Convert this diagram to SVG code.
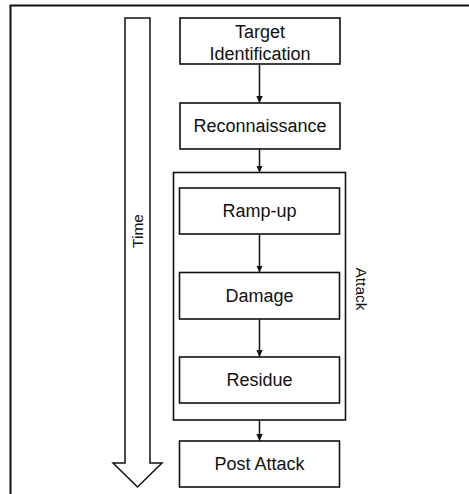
<svg xmlns="http://www.w3.org/2000/svg" width="469" height="494" viewBox="0 0 469 494">
  <style>
    .box { fill: #ffffff; stroke: #111111; stroke-width: 1.6; }
    .lbl { font-family: "Liberation Sans", Arial, sans-serif; font-size: 18px; fill: #111111; text-anchor: middle; }
    .side { font-family: "Liberation Sans", Arial, sans-serif; font-size: 15.5px; fill: #111111; text-anchor: middle; }
    .conn { stroke: #111111; stroke-width: 1.5; fill: none; marker-end: url(#head); }
  </style>
  <defs>
    <marker id="head" markerWidth="8" markerHeight="8" refX="7" refY="4" orient="auto" markerUnits="userSpaceOnUse">
      <path d="M0,0.8 L7,4 L0,7.2 Z" fill="#111111"/>
    </marker>
  </defs>
  <rect width="469" height="494" fill="#ffffff"/>

  <!-- frame -->
  <path d="M10.5,494 V5.5 H469" fill="none" stroke="#111111" stroke-width="2"/>

  <!-- time arrow -->
  <g id="time">
    <polygon points="125,18 150,18 150,463 162,463 137.5,487 113,463 125,463" fill="#ffffff" stroke="#111111" stroke-width="1.5"/>
    <text class="side" transform="translate(142.5,231) rotate(-90)">Time</text>
  </g>

  <!-- attack container -->
  <g id="attack">
    <rect class="box" x="173.5" y="172.5" width="172" height="247.5"/>
    <text class="side" transform="translate(356,289) rotate(90)">Attack</text>
  </g>

  <g id="target">
    <rect class="box" x="180" y="18" width="160" height="46"/>
    <text class="lbl" x="260" y="38">Target</text>
    <text class="lbl" x="260" y="59.5">Identification</text>
  </g>
  <g id="recon">
    <rect class="box" x="180" y="103" width="160" height="46"/>
    <text class="lbl" x="260" y="132">Reconnaissance</text>
  </g>
  <g id="rampup">
    <rect class="box" x="179.5" y="188" width="160" height="46"/>
    <text class="lbl" x="259.5" y="217">Ramp-up</text>
  </g>
  <g id="damage">
    <rect class="box" x="179.5" y="272.5" width="160" height="46.5"/>
    <text class="lbl" x="259.5" y="301.5">Damage</text>
  </g>
  <g id="residue">
    <rect class="box" x="179.5" y="357" width="160" height="46"/>
    <text class="lbl" x="259.5" y="386">Residue</text>
  </g>
  <g id="post">
    <rect class="box" x="179.5" y="441" width="160" height="46"/>
    <text class="lbl" x="259.5" y="470">Post Attack</text>
  </g>

  <g id="connectors">
    <line class="conn" x1="259.5" y1="64" x2="259.5" y2="103"/>
    <line class="conn" x1="259.5" y1="149" x2="259.5" y2="172.5"/>
    <line class="conn" x1="259.5" y1="234" x2="259.5" y2="272.5"/>
    <line class="conn" x1="259.5" y1="319" x2="259.5" y2="357"/>
    <line class="conn" x1="259.5" y1="420" x2="259.5" y2="441"/>
  </g>
</svg>
